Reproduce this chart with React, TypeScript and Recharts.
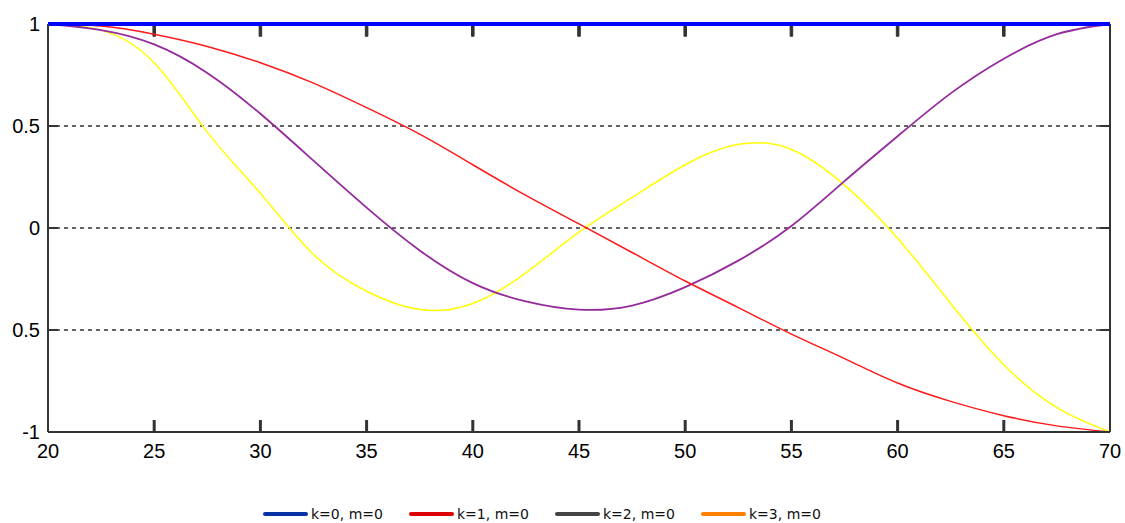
import React from 'react';
import { LineChart, Line, XAxis, YAxis, CartesianGrid, ReferenceLine, ReferenceArea } from 'recharts';

// sample positions along the x axis
const xs = [20, 22.5, 25, 27.5, 30, 32.5, 35, 37.5, 40, 42.5, 45, 47.5, 50, 52.5, 55, 57.5, 60, 62.5, 65, 67.5, 70];

// curves
const k0 = [1, 1, 1, 1, 1, 1, 1, 1, 1, 1, 1, 1, 1, 1, 1, 1, 1, 1, 1, 1, 1];
const k1 = [1, 0.99, 0.95, 0.89, 0.81, 0.71, 0.59, 0.46, 0.31, 0.16, 0.02, -0.12, -0.26, -0.39, -0.52, -0.64, -0.76, -0.85, -0.92, -0.97, -1];
const k2 = [1, 0.97, 0.9, 0.76, 0.56, 0.33, 0.1, -0.11, -0.27, -0.36, -0.4, -0.38, -0.29, -0.16, 0.01, 0.23, 0.45, 0.66, 0.83, 0.95, 1];
const k3 = [1, 0.97, 0.81, 0.47, 0.17, -0.13, -0.31, -0.4, -0.37, -0.22, -0.02, 0.15, 0.31, 0.41, 0.385, 0.21, -0.05, -0.37, -0.67, -0.88, -1];

const xTicks = [20, 25, 30, 35, 40, 45, 50, 55, 60, 65, 70];
const yTicks = [-1, -0.5, 0, 0.5, 1];
// the picture drops the minus sign on -0.5
const yLabels = ['-1', '0.5', '0', '0.5', '1'];

const legendItems = [
  { label: 'k=0, m=0', color: '#0a32a6' },
  { label: 'k=1, m=0', color: '#dd0000' },
  { label: 'k=2, m=0', color: '#444444' },
  { label: 'k=3, m=0', color: '#ff7f00' },
];

const data = xs.map((x, i) => ({ x, k0: k0[i], k1: k1[i], k2: k2[i], k3: k3[i] }));

const X_MIN = 20;
const X_MAX = 70;
const Y_MIN = -1;
const Y_MAX = 1;
// inward tick size in data units
const TICK_DX = 0.47;
const TICK_DY = 0.05;
const TICK_HALF_W = 0.06;

const frame = '#333333';
const labelFont = { fontFamily: 'Liberation Sans, Arial, sans-serif', fontSize: 20, fill: '#000' };
const axisStroke = { stroke: frame, strokeWidth: 2 };

// label plus a small inward tick drawn as a filled rect
const BottomTick = (props: any) => {
  const { x, y, payload } = props;
  const inner = payload.value !== X_MIN && payload.value !== X_MAX;
  return (
    <g>
      {inner && <rect x={x - 1.5} y={y - 12} width={3} height={12} fill={frame} />}
      <text x={x} y={y + 26} textAnchor="middle" {...labelFont}>{payload.value}</text>
    </g>
  );
};

const LeftTick = (props: any) => {
  const { x, y, payload } = props;
  const idx = yTicks.indexOf(payload.value);
  return (
    <text x={x - 8} y={y + 7} textAnchor="end" {...labelFont}>{yLabels[idx]}</text>
  );
};

export default function App() {
  const innerX = xTicks.slice(1, -1);
  const innerY = yTicks.slice(1, -1);
  return (
    <div style={{ position: 'absolute', left: 0, top: 0, width: 1125, height: 523, background: '#fff' }}>
      <LineChart width={1125} height={523} data={data} margin={{ top: 24, right: 15, bottom: 0, left: 0 }}>
        <CartesianGrid vertical={false} stroke="#333" strokeDasharray="4 4" strokeWidth={1.5} />
        <XAxis
          dataKey="x"
          type="number"
          domain={[X_MIN, X_MAX]}
          ticks={xTicks}
          height={91}
          tickSize={0}
          tickMargin={0}
          tickLine={false}
          axisLine={axisStroke}
          tick={<BottomTick />}
        />
        <YAxis
          type="number"
          domain={[Y_MIN, Y_MAX]}
          ticks={yTicks}
          width={48}
          tickSize={0}
          tickMargin={0}
          tickLine={false}
          axisLine={axisStroke}
          tick={<LeftTick />}
        />

        {/* box: right and top edges */}
        <ReferenceLine x={X_MAX} {...axisStroke} />
        <ReferenceLine y={Y_MAX} {...axisStroke} />

        {/* inward tick marks */}
        {innerX.map((t) => (
          <ReferenceArea
            key={`t${t}`}
            x1={t - TICK_HALF_W}
            x2={t + TICK_HALF_W}
            y1={Y_MAX - TICK_DY * 1.2}
            y2={Y_MAX}
            fill={frame}
            fillOpacity={1}
            stroke={frame}
            strokeWidth={1}
            ifOverflow="visible"
          />
        ))}
        {innerY.map((t) => (
          <ReferenceLine
            key={`l${t}`}
            ifOverflow="visible"
            segment={[{ x: X_MIN, y: t }, { x: X_MIN + TICK_DX, y: t }]}
            {...axisStroke}
          />
        ))}
        {innerY.map((t) => (
          <ReferenceLine
            key={`r${t}`}
            ifOverflow="visible"
            segment={[{ x: X_MAX, y: t }, { x: X_MAX - TICK_DX, y: t }]}
            {...axisStroke}
          />
        ))}

        <Line dataKey="k3" type="natural" stroke="#ffff00" strokeWidth={1.5} dot={false} isAnimationActive={false} />
        <Line dataKey="k2" type="natural" stroke="#952a9c" strokeWidth={1.8} dot={false} isAnimationActive={false} />
        <Line dataKey="k1" type="natural" stroke="#ff1a1a" strokeWidth={1.5} dot={false} isAnimationActive={false} />
        <Line dataKey="k0" type="linear" stroke="#0000ff" strokeWidth={4} dot={false} isAnimationActive={false} />
      </LineChart>
      <div
        style={{
          position: 'absolute',
          top: 505,
          left: 263,
          display: 'flex',
          fontFamily: 'DejaVu Sans, sans-serif',
          fontSize: 14,
          color: '#111',
          lineHeight: '18px',
        }}
      >
        {legendItems.map((item) => (
          <div key={item.label} style={{ display: 'flex', alignItems: 'center', width: 146 }}>
            <div style={{ width: 45, height: 4, background: item.color, borderRadius: 2, marginRight: 3 }} />
            <span>{item.label}</span>
          </div>
        ))}
      </div>
    </div>
  );
}
